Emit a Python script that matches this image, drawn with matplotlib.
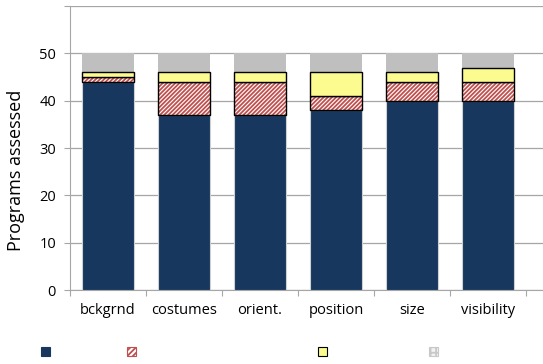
import matplotlib.pyplot as plt
import numpy as np
from matplotlib.patches import Rectangle

plt.rcParams['font.family'] = ['Open Sans', 'DejaVu Sans']
plt.rcParams['hatch.linewidth'] = 1.3

categories = ['bckgrnd', 'costumes', 'orient.', 'position', 'size', 'visibility']
solid = [44, 37, 37, 38, 40, 40]
hatched = [1, 7, 7, 3, 4, 4]
yellow = [1, 2, 2, 5, 2, 3]
grey = [4, 4, 4, 4, 4, 3]

navy = '#17375E'
red = '#C0504D'
ylw = '#FBFB8F'
gry = '#BFBFBF'

fig = plt.figure(figsize=(5.43, 3.64), dpi=100)
ax = fig.add_axes([70/543, 74/364, 473/543, 284/364])

x = np.arange(len(categories))
w = 0.68
b1 = np.array(solid)
b2 = b1 + np.array(hatched)
b3 = b2 + np.array(yellow)

ax.bar(x, solid, w, color=navy, edgecolor='#D0D0D0', linewidth=0.8, zorder=3)
ax.bar(x, hatched, w, bottom=b1, color='white', edgecolor=red, hatch='////////', linewidth=0, zorder=3)
ax.bar(x, hatched, w, bottom=b1, fill=False, edgecolor='black', linewidth=1.0, zorder=4)
ax.bar(x, yellow, w, bottom=b2, color=ylw, edgecolor='black', linewidth=1.0, zorder=4)
ax.bar(x, grey, w, bottom=b3, color=gry, linewidth=0, zorder=3)

ax.set_xlim(-0.5, (543 - 70) / 76 - 0.5)
ax.set_ylim(0, 60)
ax.set_yticks(np.arange(0, 61, 10))
ax.set_yticklabels(['0', '10', '20', '30', '40', '50', ''])
ax.yaxis.grid(True, color='#A6A6A6', linewidth=0.9, zorder=0)
ax.set_xticks(np.arange(-0.5, 5.6, 1.0))
ax.set_xticklabels([])
ax.set_xticks(x, minor=True)
ax.set_xticklabels(categories, minor=True, fontsize=10.5)
ax.tick_params(axis='x', which='minor', length=0, pad=9)
ax.tick_params(axis='x', which='major', length=4, color='#A6A6A6', direction='out')
ax.tick_params(axis='y', length=4, color='#A6A6A6', labelsize=10.5, pad=6)
for s in ['top', 'right']:
    ax.spines[s].set_visible(False)
ax.spines['left'].set_color('#A6A6A6')
ax.spines['bottom'].set_color('#A6A6A6')
ax.set_ylabel('Programs assessed', fontsize=13)
ax.yaxis.set_label_coords(-45/473, 0.42)

# legend swatches (labels are empty in the original)
leg_x = [41, 127, 318, 429]
leg_style = [
    dict(facecolor=navy, edgecolor=navy),
    dict(facecolor='white', edgecolor=red, hatch='//////'),
    dict(facecolor=ylw, edgecolor='black'),
    dict(facecolor='#F2F2F2', edgecolor='#C8C8C8', hatch='+++'),
]
for lx, st in zip(leg_x, leg_style):
    fig.add_artist(Rectangle((lx/543, 8/364), 9/543, 9/364, linewidth=0.8,
                             transform=fig.transFigure, **st))

fig.savefig('out.png', dpi=100)
